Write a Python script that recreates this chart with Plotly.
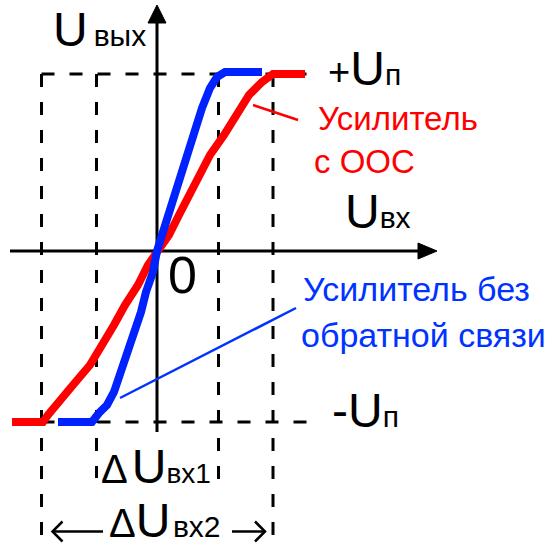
import plotly.graph_objects as go

# ---------------- data (units: Uвх / Uвых, origin at the axes crossing) ----------------
red_x = [-14.5, -11.4, -10.9, -10.0, -8.4, -6.7, -5.4, -4.3, -3.2, -1.9, -0.9, 0.0,
         1.2, 2.2, 3.2, 4.2, 5.3, 6.7, 8.0, 9.2, 10.5, 11.6, 14.8]
red_y = [-17.1, -17.1, -16.4, -15.4, -13.4, -11.4, -9.4, -7.4, -5.4, -3.4, -1.4, 0.0,
         1.6, 3.6, 5.6, 7.6, 9.6, 11.6, 13.6, 15.6, 16.9, 17.7, 17.7]
blue_x = [-9.9, -6.5, -5.8, -5.0, -4.3, -3.6, -2.9, -2.3, -1.6, -1.1, -0.4, 0.0,
          0.7, 1.3, 2.0, 2.6, 3.1, 3.7, 4.5, 5.3, 6.0, 6.8, 10.5]
blue_y = [-17.1, -17.1, -16.2, -15.4, -14.1, -12.1, -10.1, -8.1, -6.1, -4.1, -2.1, 0.0,
          2.3, 4.3, 6.3, 8.3, 10.3, 12.3, 14.3, 16.3, 17.4, 17.9, 17.9]

u_plus = 17.7          # +Uп level
u_minus = -17.1        # -Uп level
dvx1 = [-6.05, 6.15]   # ΔUвх1 bounds
dvx2 = [-11.55, 11.6]  # ΔUвх2 bounds

label_uout = "U<span style='font-size:30px'>\u2009вых</span>"
label_uin = "U<span style='font-size:30px'>вх</span>"
label_up = "<span style='font-size:38px'>+</span>U<span style='font-size:30px'>п</span>"
label_um = "-U<span style='font-size:30px'>п</span>"
label_zero = "0"
label_d1 = "<span style='font-size:40px'>Δ</span>\u200aU<span style='font-size:28px'>вх1</span>"
label_d2 = "<span style='font-size:40px'>Δ</span>U<span style='font-size:30px'>\u200aвх2</span>"
red_text = ["Усилитель", "с ООС"]
blue_text = ["Усилитель без", "обратной связи"]

RED = "#ff0000"
BLUE = "#0022ff"
TBLUE = "#0033ff"
BLACK = "#000000"
FONT = "Liberation Sans, Arial, sans-serif"

fig = go.Figure()


def line(xs, ys, color=BLACK, width=3, dash=None):
    fig.add_trace(go.Scatter(x=xs, y=ys, mode="lines", hoverinfo="skip",
                             line=dict(color=color, width=width, dash=dash)))


# dashed guide lines
DASH = "13px,15px"
line([dvx2[0], 15.6], [u_plus, u_plus], dash=DASH)
line([dvx2[0], 16.3], [u_minus, u_minus], dash=DASH)
line([dvx2[0], dvx2[0]], [u_plus, -28.9], dash=DASH)
line([dvx2[1], dvx2[1]], [u_plus, -28.9], dash=DASH)
line([dvx1[0], dvx1[0]], [u_plus, -22.7], dash=DASH)
line([dvx1[1], dvx1[1]], [u_plus, -23.1], dash=DASH)

# axes with arrow heads
line([-14.7, 26.2], [0, 0], width=3)
line([0, 0], [-18.1, 22.9], width=3)
fig.add_trace(go.Scatter(x=[-0.9, 0.9, 0, -0.9], y=[22.8, 22.8, 24.6, 22.8], mode="lines",
                         fill="toself", fillcolor=BLACK, line=dict(color=BLACK, width=1),
                         hoverinfo="skip"))
fig.add_trace(go.Scatter(x=[26.1, 26.1, 28.0, 26.1], y=[0.8, -0.8, 0, 0.8], mode="lines",
                         fill="toself", fillcolor=BLACK, line=dict(color=BLACK, width=1),
                         hoverinfo="skip"))

# transfer characteristics
line(red_x, red_y, color=RED, width=8)
line(blue_x, blue_y, color=BLUE, width=8)

# leader lines
line([9.6, 14.1], [14.6, 13.1], color=RED, width=2.5)
line([-3.7, 13.9], [-14.7, -5.7], color=TBLUE, width=2.5)

# ΔUвх2 arrows
ay = -28.05
line([dvx2[0] + 1.1, -5.4], [ay, ay], width=2.5)
line([dvx2[0] + 2.1, dvx2[0] + 1.1, dvx2[0] + 2.1], [ay + 1.0, ay, ay - 1.0], width=2.5)
line([7.5, dvx2[1] - 0.8], [ay, ay], width=2.5)
line([dvx2[1] - 1.8, dvx2[1] - 0.8, dvx2[1] - 1.8], [ay + 1.0, ay, ay - 1.0], width=2.5)


def text(x, y, s, size=48, color=BLACK, anchor="left"):
    fig.add_annotation(x=x, y=y, xref="x", yref="y", text=s, showarrow=False,
                       xanchor=anchor, yanchor="middle",
                       font=dict(family=FONT, size=size, color=color))


text(-10.6, 22.2, label_uout)
text(16.9, 18.25, label_up)
text(17.3, -15.9, label_um)
text(18.6, 3.95, label_uin)
text(0.9, -2.4, label_zero, size=52)
text(-5.8, -21.5, label_d1)
text(-5.0, -26.9, label_d2)
text(15.9, 13.3, red_text[0], size=33, color=RED)
text(15.5, 9.0, red_text[1], size=33, color=RED)
text(14.4, -3.8, blue_text[0], size=34, color=TBLUE)
text(14.2, -8.4, blue_text[1], size=34, color=TBLUE)

fig.update_layout(
    width=550, height=547,
    margin=dict(l=0, r=0, t=0, b=0),
    paper_bgcolor="white", plot_bgcolor="white",
    showlegend=False,
    xaxis=dict(range=[-15.7, 39.3], visible=False, fixedrange=True),
    yaxis=dict(range=[-29.6, 25.1], visible=False, fixedrange=True),
)

fig.write_html("out.html", config={"displayModeBar": False},
               post_script="document.body.style.margin='0';")
